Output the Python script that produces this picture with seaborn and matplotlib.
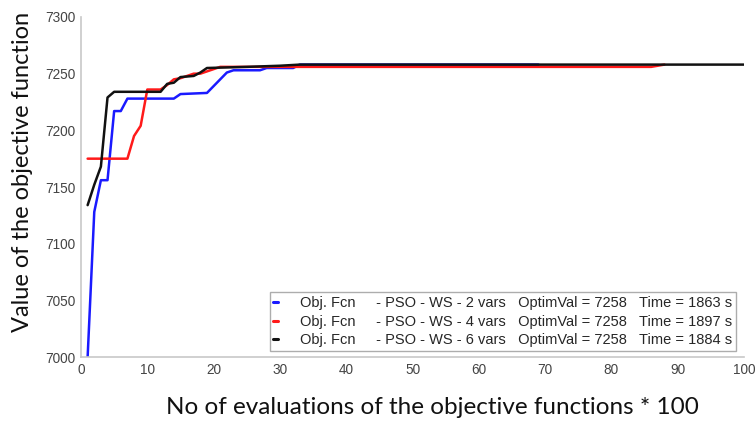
import matplotlib
matplotlib.use("Agg")
import matplotlib.pyplot as plt
import seaborn as sns
import pandas as pd

# breakpoints of each convergence curve (x = evaluations/100, y = objective value)
blue_x = [1, 2, 3, 4, 5, 6, 7, 14, 15, 19, 20, 21, 22, 23, 27, 28, 32, 33, 69]
blue_y = [7000, 7128, 7156, 7156, 7217, 7217, 7228, 7228, 7232, 7233, 7239, 7245, 7251, 7253, 7253, 7255, 7255, 7258, 7258]

red_x = [1, 7, 8, 9, 10, 12, 13, 14, 15, 16, 17, 18, 19, 20, 21, 86, 88]
red_y = [7175, 7175, 7195, 7204, 7236, 7236, 7240, 7245, 7246, 7248, 7250, 7250, 7252, 7254, 7256, 7256, 7258]

black_x = [1, 2, 3, 4, 5, 12, 13, 14, 15, 17, 18, 19, 25, 30, 33, 100]
black_y = [7134, 7152, 7168, 7229, 7234, 7234, 7241, 7242, 7247, 7248, 7251, 7255, 7256, 7257, 7258, 7258]

labels = [
    "Obj. Fcn     - PSO - WS - 2 vars   OptimVal = 7258   Time = 1863 s",
    "Obj. Fcn     - PSO - WS - 4 vars   OptimVal = 7258   Time = 1897 s",
    "Obj. Fcn     - PSO - WS - 6 vars   OptimVal = 7258   Time = 1884 s",
]
colors = ["#1a1aff", "#ff1a1a", "#111111"]

xticks = [0, 10, 20, 30, 40, 50, 60, 70, 80, 90, 100]
yticks = [7000, 7050, 7100, 7150, 7200, 7250, 7300]

frames = []
for xs, ys, lab in [(blue_x, blue_y, labels[0]), (red_x, red_y, labels[1]), (black_x, black_y, labels[2])]:
    frames.append(pd.DataFrame({"x": xs, "y": ys, "series": lab}))
df = pd.concat(frames, ignore_index=True)

sns.set_style("white")
plt.rcParams["font.family"] = ["Liberation Sans", "DejaVu Sans"]

fig = plt.figure(figsize=(7.56, 4.22), dpi=100)
ax = fig.add_axes([81 / 756, 1 - 357 / 422, (744 - 81) / 756, (357 - 17) / 422])

sns.lineplot(data=df, x="x", y="y", hue="series", palette=dict(zip(labels, colors)),
             linewidth=1.8, ax=ax, sort=False, estimator=None)

ax.set_xlim(0, 100)
ax.set_ylim(7000, 7300)
ax.set_xticks(xticks)
ax.set_yticks(yticks)
ax.tick_params(axis="both", direction="in", length=4, color="#bbbbbb",
               labelsize=9.8, labelcolor="#444444", pad=4)
for s in ["top", "right"]:
    ax.spines[s].set_visible(False)
for s in ["left", "bottom"]:
    ax.spines[s].set_color("#c8c8c8")
    ax.spines[s].set_linewidth(1.2)

ax.set_xlabel("No of evaluations of the objective functions * 100",
              fontsize=17.5, family=["Lato", "DejaVu Sans"], color="#111111", labelpad=15)
ax.set_ylabel("Value of the objective function",
              fontsize=17, family=["Lato", "DejaVu Sans"], color="#111111", labelpad=9)
ax.xaxis.label.set_x(0.53)
ax.yaxis.label.set_y(0.545)

leg = ax.legend(loc="lower right", bbox_to_anchor=(1 - 8 / 663, 6 / 340), fontsize=10.5,
                handlelength=0.35, handletextpad=1.5, frameon=True, fancybox=False,
                borderpad=0.25, labelspacing=0.32, borderaxespad=0.0)
leg.get_frame().set_edgecolor("#999999")
leg.get_frame().set_linewidth(1.0)
for line in leg.get_lines():
    line.set_linewidth(2.2)

fig.savefig("out.png", dpi=100)
